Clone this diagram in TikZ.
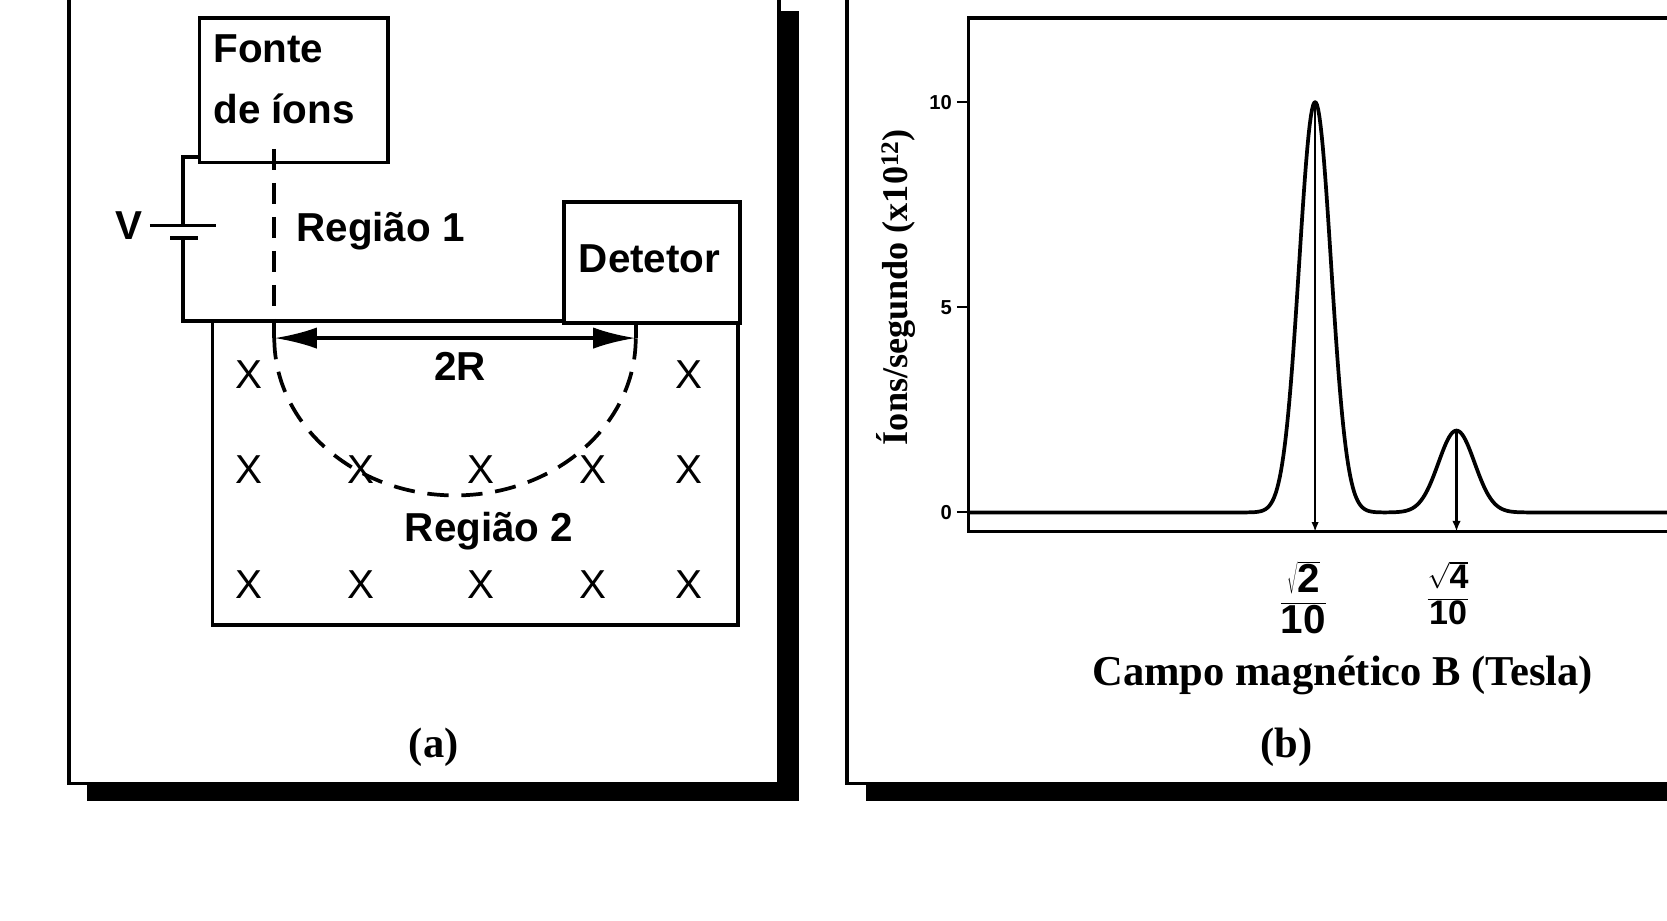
\documentclass[tikz,border=0pt]{standalone}
\usepackage{fontspec}
\setmainfont{Liberation Serif}
\setsansfont{Liberation Sans}
\usetikzlibrary{arrows.meta}
\newcommand{\sfd}[1]{\mbox{\sffamily\bfseries #1}}
\begin{document}
\begin{tikzpicture}[x=1pt,y=-1pt,line width=3.5pt,
  ss/.style={font=\sffamily\bfseries\fontsize{38}{44}\selectfont,inner sep=0},
  xx/.style={font=\sffamily\fontsize{38}{42}\selectfont,inner sep=0},
  sr/.style={font=\rmfamily\bfseries\fontsize{40}{46}\selectfont,inner sep=0},
  tk/.style={font=\sffamily\bfseries\fontsize{19}{22}\selectfont,inner sep=0,anchor=east},
  dsh/.style={dash pattern=on 20pt off 12pt,line width=3.5pt}]
\useasboundingbox (0,0) rectangle (1568,866);
\clip (0,0) rectangle (1568,866);
% left panel
\fill (82,10) rectangle (752,753);
\draw[fill=white] (65,-20) rectangle (733,737);
% right panel
\fill (815,10) rectangle (1600,753);
\draw[fill=white] (797,-20) rectangle (1620,737);
% Fonte
\node[draw,minimum width=177,minimum height=136,anchor=north west] (fonte) at (186,15) {};
\node[ss,anchor=west] (t1) at (199,46) {Fonte};
\node[ss,anchor=west] (t2) at (199,102) {de íons};
% circuit
\coordinate (w1) at (186,148);
\draw (w1) -- (172,148) -- (172,212);
\draw (172,222) -- (172,302) -- (200,302);
\draw (141,212) -- (203,212);
\draw (160,224) -- (186,224);
\node[ss,anchor=east] (v) at (136,212) {V};
% region 2 box
\draw (200,302) rectangle (694,588);
\node[draw,minimum width=165,minimum height=114,anchor=north west,fill=white] (det) at (529,188) {};
\node[ss] (dt) at (611,243) {Detetor};
\node[ss] (r1) at (358,217) {Região 1};
\node[ss] (r2) at (460,500) {Região 2};
% path
\draw[dsh] (258,140) -- (258,318);
\draw[dsh] (258,318) arc[start angle=180,end angle=0,x radius=170,y radius=148];
\draw[dsh] (598,318) -- (598,302);
\coordinate (pa) at (258,318); \coordinate (pb) at (598,318);
\draw[{Latex[length=40pt,width=20pt]}-{Latex[length=40pt,width=20pt]}] (pa) -- (pb);
\node[ss] (tr) at (433,345) {2R};
% X marks
\foreach \x/\y in {234/352,648/352,234/442,340/442,452/442,558/442,648/442,234/550,340/550,452/550,558/550,648/550}
  \node[xx] at (\x,\y) {X};
\node[sr] (la) at (408,703) {(a)};
% plot
\draw (1620,17) -- (911,17) -- (911,500) -- (1620,500);
\foreach \y/\l in {96/10,289/5,482/0}{\draw[line width=2pt] (900,\y) -- (911,\y); \node[tk] at (897,\y) {\l};}
\draw[line width=3.5pt,line join=round] (911,482) -- (1170,482)
  -- plot[domain=1170:1304,samples=120] (\x,{482-386*exp(-0.5*((\x-1237)/15)*((\x-1237)/15))})
  -- plot[domain=1304:1440,samples=100] (\x,{482-77*exp(-0.5*((\x-1370)/17)*((\x-1370)/17))})
  -- (1620,482);
\coordinate (p1) at (1237,96); \coordinate (b1) at (1237,500);
\coordinate (p2) at (1370,405); \coordinate (b2) at (1370,500);
\draw[line width=1.5pt,-{Latex[length=9pt,width=7pt]}] (p1) -- (b1);
\draw[line width=2.5pt,-{Latex[length=10pt,width=8pt]}] (p2) -- (b2);
\node[ss] (f1) at (1226,562) {$\displaystyle\frac{\sqrt{\sfd{2}}}{\sfd{10}}$};
\node[ss,font=\sffamily\bfseries\fontsize{32}{36}\selectfont] (f2) at (1362,558) {$\displaystyle\frac{\sqrt{\sfd{4}}}{\sfd{10}}$};
\node[sr] (xl) at (1263,635) {Campo magnético B (Tesla)};
\node[sr,rotate=90,font=\rmfamily\bfseries\fontsize{34}{40}\selectfont] (yl) at (843,270) {Íons/segundo (x10$^{\mathbf{12}}$)};
\node[sr] (lb) at (1210,703) {(b)};
\end{tikzpicture}
\end{document}
